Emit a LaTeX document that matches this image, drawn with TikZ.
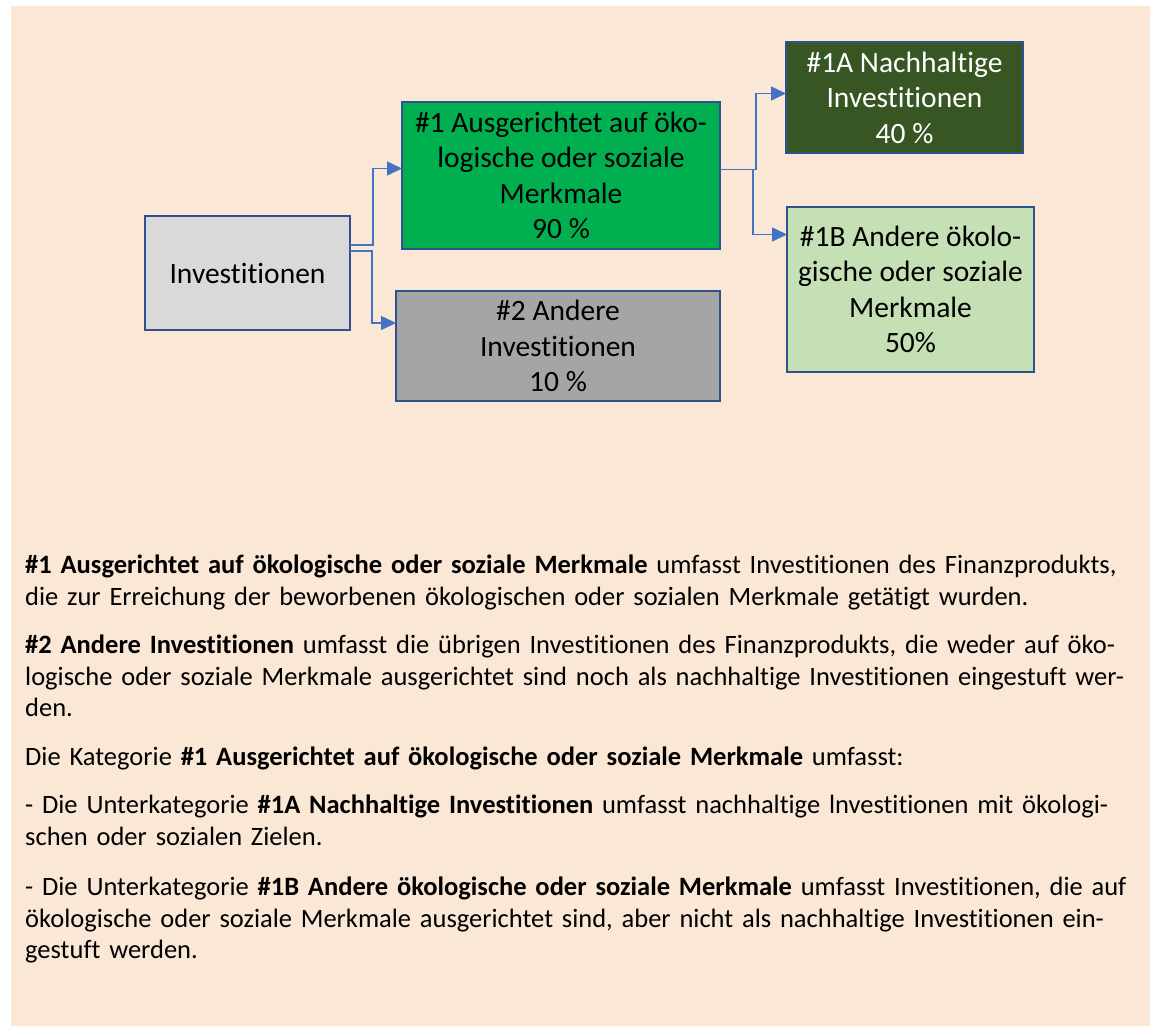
\documentclass[tikz,border=0pt]{standalone}
\usepackage{fontspec}
\setmainfont{Carlito}[Ligatures={NoCommon}]
\usepackage{xcolor}
\usetikzlibrary{arrows.meta, positioning}
\definecolor{bgbeige}{HTML}{FBE7D6}
\definecolor{boxblue}{HTML}{2F528F}
\definecolor{connblue}{HTML}{4472C4}
\definecolor{invgray}{HTML}{D9D9D9}
\definecolor{ausggreen}{HTML}{00B050}
\definecolor{anderegray}{HTML}{A5A5A5}
\definecolor{nachhgreen}{HTML}{375623}
\definecolor{merkgreen}{HTML}{C5E0B4}
\newcommand{\boxfont}{\fontsize{29.5}{35.5}\selectfont}
\newcommand{\txtfont}{\fontsize{26.5}{31.5}\selectfont}

\begin{document}
\begin{tikzpicture}[
  x=1pt, y=-1pt,
  box/.style={rectangle, draw=boxblue, line width=2.5pt, outer sep=0pt,
              inner sep=2pt, align=center, font=\boxfont},
  txt/.style={anchor=north west, inner sep=0pt, text width=1125pt,
              align=left, font=\txtfont},
  arr/.style={-{Triangle[length=15pt,width=14pt]}, line width=1.5pt, color=connblue}
]
\useasboundingbox (0,0) rectangle (1150,1026);
\fill[white] (0,0) rectangle (1150,1026);
\fill[bgbeige] (11,6) rectangle (1150,1026);

% chart boxes
\node[box, fill=invgray, minimum width=205pt, minimum height=114pt] (inv) at (247.5,273) {Investitionen};
\node[box, fill=ausggreen, minimum width=318pt, minimum height=147pt] (ausg) at (561,175.5)
  {\#1 Ausgerichtet auf öko-\\logische oder soziale\\Merkmale\\90 \%};
\node[box, fill=anderegray, minimum width=324pt, minimum height=110pt, below=42pt of ausg, xshift=-3pt] (andere)
  {\#2 Andere\\Investitionen\\10 \%};
\node[box, fill=nachhgreen, text=white, minimum width=237pt, minimum height=111pt] (nachh) at (904.5,97.5)
  {\#1A Nachhaltige\\Investitionen\\40 \%};
\node[box, fill=merkgreen, minimum width=247pt, minimum height=165pt, below=54pt of nachh, xshift=6pt] (merk)
  {\#1B Andere ökolo-\\gische oder soziale\\Merkmale\\50\%};

\draw[arr] ([yshift=28pt]inv.east) -- ++(23pt,0) |- ([yshift=7pt]ausg.west);
\draw[arr] ([yshift=22pt]inv.east) -- ++(22pt,0) |- ([yshift=23pt]andere.west);
\draw[arr] ([yshift=6pt]ausg.east) -- ++(36pt,0) |- ([yshift=4pt]nachh.west);
\draw[arr] ([yshift=6pt]ausg.east) -- ++(33pt,0) |- ([yshift=55pt]merk.west);

% explanations
\node[txt] (p1) at (25,555) {\textbf{\#1 Ausgerichtet auf ökologische oder soziale Merkmale} umfasst Investitionen des Finanzprodukts,\\
  die zur Erreichung der beworbenen ökologischen oder sozialen Merkmale getätigt wurden.};
\node[txt] (p2) at (25,635) {\textbf{\#2 Andere Investitionen} umfasst die übrigen Investitionen des Finanzprodukts, die weder auf öko-\\
  logische oder soziale Merkmale ausgerichtet sind noch als nachhaltige Investitionen eingestuft wer-\\
  den.};
\node[txt] (p3) at (25,747) {Die Kategorie \textbf{\#1 Ausgerichtet auf ökologische oder soziale Merkmale} umfasst:};
\node[txt] (p4) at (25,795) {- Die Unterkategorie \textbf{\#1A Nachhaltige Investitionen} umfasst nachhaltige lnvestitionen mit ökologi-\\
  schen oder sozialen Zielen.};
\node[txt] (p5) at (25,877) {- Die Unterkategorie \textbf{\#1B Andere ökologische oder soziale Merkmale} umfasst Investitionen, die auf\\
  ökologische oder soziale Merkmale ausgerichtet sind, aber nicht als nachhaltige Investitionen ein-\\
  gestuft werden.};
\end{tikzpicture}
\end{document}
